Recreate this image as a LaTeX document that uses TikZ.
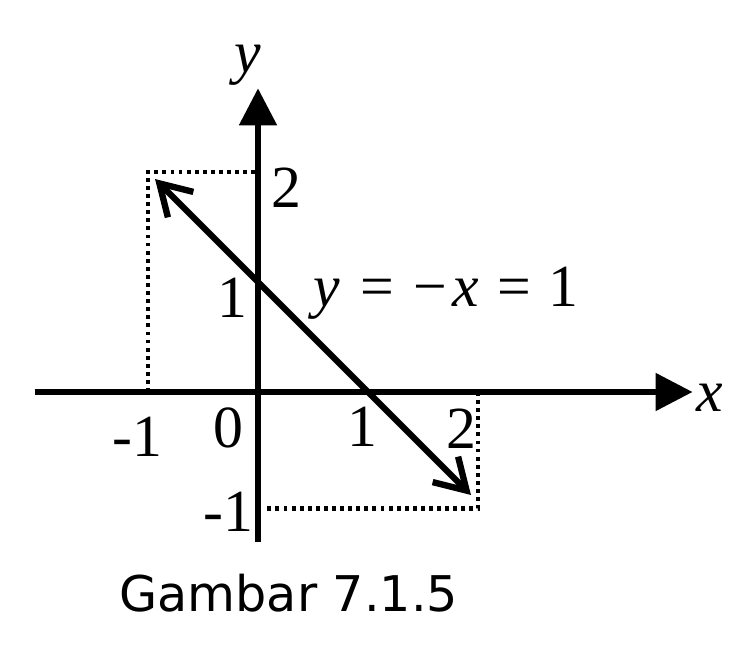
\documentclass[tikz,border=0pt]{standalone}
\usepackage{fontspec}
\setmainfont{Liberation Serif}
\newfontfamily\capfont{DejaVu Sans}
\usetikzlibrary{arrows.meta}

\tikzset{
  axis/.style={line width=1.5pt,-{Triangle[length=0.37cm,width=0.37cm]}},
  guide/.style={line width=1.2pt,dash pattern=on 1.1pt off 1.2pt},
  vec/.style={line width=1.8pt,{Straight Barb[length=0.3cm,width=0.36cm]}-{Straight Barb[length=0.3cm,width=0.36cm]},shorten <=0.1cm,shorten >=0.1cm},
  lbl/.style={inner sep=0pt,font=\fontsize{17}{20}\selectfont}
}

\begin{document}
\begin{tikzpicture}[x=1.1cm,y=1.1cm]
\useasboundingbox (-2.58cm,-2.61cm) rectangle (4.79cm,3.92cm);
% points
\coordinate (O) at (0,0);
\coordinate (P) at (-1,2);
\coordinate (Q) at (2,-1);
\coordinate (R) at (2,-1.06);
\coordinate (xl) at (-2.03,0);
\coordinate (xr) at (3.95,0);
\coordinate (yb) at (0,-1.36);
\coordinate (yt) at (0,2.76);
% guides
\draw[guide] (-1,0) -- (P) -- (0,2);
\draw[guide] (2,0) -- (R) -- (0.06,-1.06);
% axes
\draw[axis] (xl) -- (xr);
\draw[axis] (yb) -- (yt);
\draw[vec] (P) -- (Q);
% labels
\node[lbl,font=\fontsize{17}{20}\selectfont\itshape] (ylab) at (-0.09,2.97) {y};
\node[lbl,font=\fontsize{17}{20}\selectfont\itshape] (xlab) at (4.11,-0.05) {x};
\node[lbl] (y2) at (0.26,1.86) {2};
\node[lbl] (y1) at (-0.23,0.86) {1};
\node[lbl] (ym1) at (-0.27,-1.09) {-1};
\node[lbl] (o) at (-0.27,-0.33) {0};
\node[lbl] (xm1) at (-1.1,-0.41) {-1};
\node[lbl] (x1) at (0.95,-0.32) {1};
\node[lbl] (x2) at (1.85,-0.33) {2};
\node[lbl] (eq) at (1.71,0.90) {\textit{y}\hspace{0.2cm}=\hspace{0.2cm}−\hspace{0.05cm}\textit{x}\hspace{0.18cm}=\hspace{0.18cm}1};
\node[inner sep=0pt,font=\capfont\fontsize{14}{17}\selectfont] (cap) at (0.28,-1.83) {Gambar 7.1.5};
\end{tikzpicture}
\end{document}
